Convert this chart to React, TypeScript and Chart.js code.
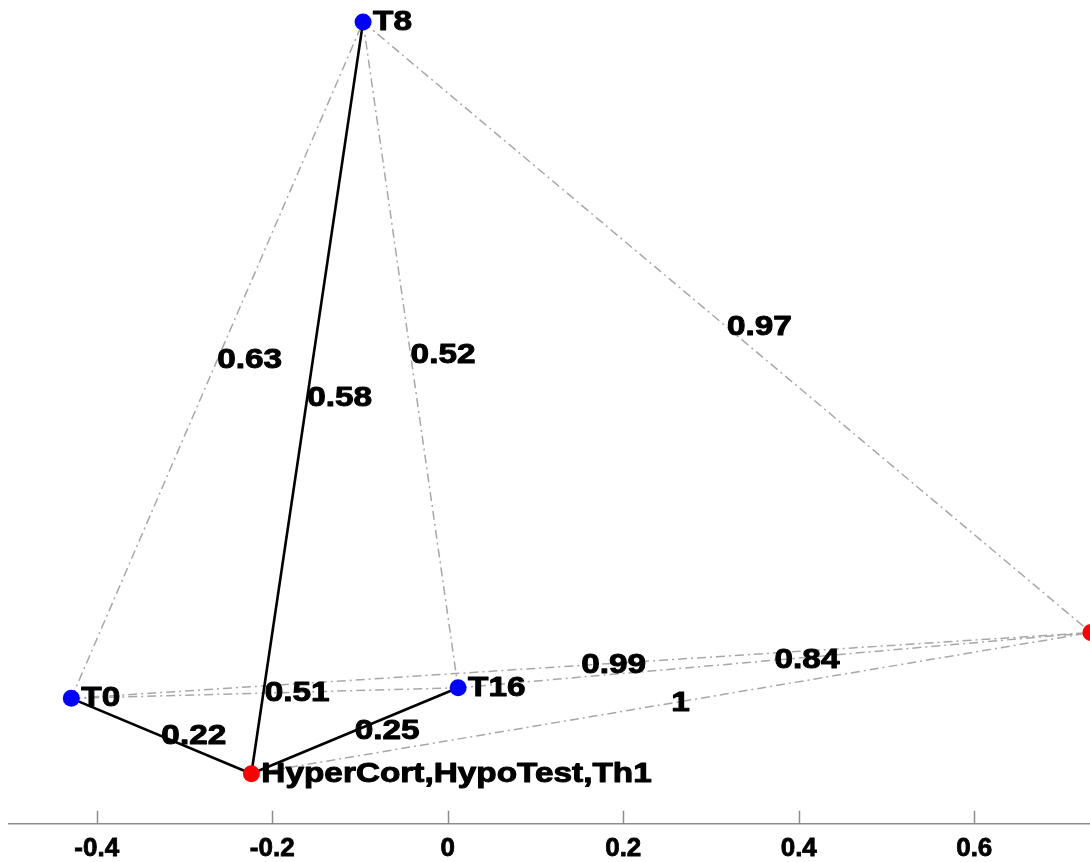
import React, { useEffect, useRef } from "react";
import { Chart, registerables } from "chart.js";

Chart.register(...registerables);

// Nodes
const nodeNames = ["T0", "T8", "T16", "HyperCort,HypoTest,Th1", ""];
const nodeX = [-0.429, -0.0965, 0.0118, -0.2238, 0.733];
const nodeY = [-0.207, 0.564, -0.195, -0.293, -0.132];
const nodeColors = ["#0000ff", "#0000ff", "#0000ff", "#ff0000", "#ff0000"];

// Solid (strong) edges
const solidFrom = [0, 3, 3];
const solidTo = [3, 1, 2];
const solidLabels = ["0.22", "0.58", "0.25"];

// Dash-dot (weak) edges
const dashFrom = [0, 1, 1, 0, 0, 2, 3];
const dashTo = [1, 2, 4, 2, 4, 4, 4];
const dashLabels = ["0.63", "0.52", "0.97", "0.51", "0.99", "0.84", "1"];

// Axis
const xTicks = [-0.4, -0.2, 0, 0.2, 0.4, 0.6];
const xTickLabels = ["-0.4", "-0.2", "0", "0.2", "0.4", "0.6"];
const xMin = -0.5;
const xMax = 0.7319;
const yMin = -0.35;
const yMax = 0.589;

const LABEL_FONT = 'bold 28.5px "Liberation Sans", Arial, sans-serif';

const overlayPlugin = {
  id: "overlay",
  afterDatasetsDraw(chart: any) {
    const { ctx } = chart;
    const xs = chart.scales.x;
    const ys = chart.scales.y;
    const px = (i: number) => xs.getPixelForValue(nodeX[i]);
    const py = (i: number) => ys.getPixelForValue(nodeY[i]);
    ctx.save();
    ctx.fillStyle = "#000";
    ctx.strokeStyle = "#000";
    ctx.lineWidth = 1;
    ctx.lineJoin = "round";
    ctx.font = LABEL_FONT;
    ctx.textAlign = "left";
    ctx.textBaseline = "middle";
    const draw = (t: string, x: number, y: number) => {
      ctx.save();
      ctx.translate(x, y);
      ctx.scale(1.17, 1);
      ctx.fillText(t, 0, 0);
      ctx.strokeText(t, 0, 0);
      ctx.restore();
    };
    dashFrom.forEach((a, k) => {
      const b = dashTo[k];
      draw(dashLabels[k], (px(a) + px(b)) / 2, (py(a) + py(b)) / 2);
    });
    solidFrom.forEach((a, k) => {
      const b = solidTo[k];
      draw(solidLabels[k], (px(a) + px(b)) / 2, (py(a) + py(b)) / 2);
    });
    nodeNames.forEach((n, i) => {
      if (n) draw(n, px(i) + 10, py(i));
    });
    ctx.restore();
  },
  afterDraw(chart: any) {
    const { ctx, chartArea } = chart;
    const xs = chart.scales.x;
    ctx.save();
    ctx.strokeStyle = "#8c8c8c";
    ctx.lineWidth = 1.5;
    xs.ticks.forEach((t: any) => {
      const x = Math.round(xs.getPixelForValue(t.value)) + 0.5;
      ctx.beginPath();
      ctx.moveTo(x, chartArea.bottom);
      ctx.lineTo(x, chartArea.bottom - 13);
      ctx.stroke();
    });
    ctx.restore();
  },
};

export default function App() {
  const ref = useRef<HTMLCanvasElement>(null);
  useEffect(() => {
    if (!ref.current) return;
    const pt = (i: number) => ({ x: nodeX[i], y: nodeY[i] });
    const datasets: any[] = [];
    datasets.push({
      data: nodeX.map((_, i) => pt(i)),
      pointBackgroundColor: nodeColors,
      pointBorderWidth: 0,
      pointRadius: 8.5,
      showLine: false,
      order: 0,
    });
    solidFrom.forEach((a, k) => {
      datasets.push({
        data: [pt(a), pt(solidTo[k])],
        showLine: true,
        borderColor: "#000",
        borderWidth: 2.6,
        pointRadius: 0,
        order: 1,
      });
    });
    dashFrom.forEach((a, k) => {
      datasets.push({
        data: [pt(a), pt(dashTo[k])],
        showLine: true,
        borderColor: "#a8a8a8",
        borderWidth: 1.5,
        borderDash: [9, 4, 2, 4],
        pointRadius: 0,
        order: 2,
      });
    });
    const chart = new Chart(ref.current, {
      type: "scatter",
      data: { datasets },
      options: {
        animation: false,
        responsive: false,
        devicePixelRatio: 1,
        layout: { autoPadding: false, padding: { left: 9, right: 0, top: 0, bottom: 0 } },
        plugins: { legend: { display: false }, tooltip: { enabled: false } },
        scales: {
          x: {
            type: "linear",
            position: "bottom",
            min: xMin,
            max: xMax,
            afterBuildTicks: (s: any) => {
              s.ticks = xTicks.map((v) => ({ value: v }));
            },
            ticks: {
              callback: (v: any) => {
                const i = xTicks.findIndex((t) => Math.abs(t - v) < 1e-9);
                return i >= 0 ? xTickLabels[i] : "";
              },
              font: { family: '"Liberation Sans", Arial, sans-serif', size: 26, weight: "bold", lineHeight: 1.2 },
              color: "#000",
              textStrokeColor: "#000",
              textStrokeWidth: 0.8,
              padding: 9,
              maxRotation: 0,
              autoSkip: false,
            },
            grid: { display: false, drawTicks: false },
            border: { display: true, color: "#8c8c8c", width: 1.5 },
          },
          y: {
            type: "linear",
            display: false,
            min: yMin,
            max: yMax,
          },
        },
      },
      plugins: [overlayPlugin],
    });
    return () => chart.destroy();
  }, []);
  return (
    <div style={{ position: "fixed", left: 0, top: 0, width: 1090, height: 862, overflow: "hidden", background: "#fff" }}>
      <canvas ref={ref} width={1090} height={873} />
    </div>
  );
}
